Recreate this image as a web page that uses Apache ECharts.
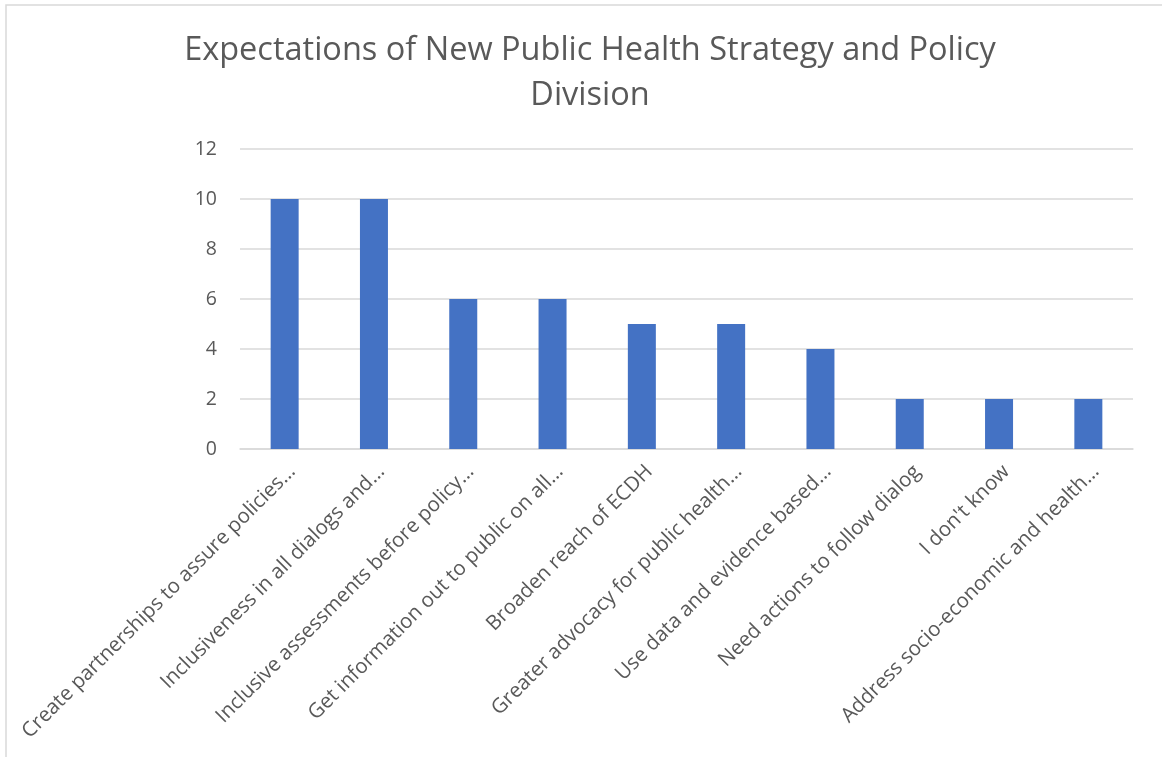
<!DOCTYPE html>
<html>
<head>
<meta charset="utf-8">
<script src="https://cdn.jsdelivr.net/npm/echarts@6/dist/echarts.min.js"></script>
<style>
  html, body { margin: 0; padding: 0; background: #fff; }
  #chart { width: 1162px; height: 757px; }
</style>
</head>
<body>
<div id="chart"></div>
<script>
// Survey responses: expectations of the new division
const categories = [
  'Create partnerships to assure policies…',
  'Inclusiveness in all dialogs and…',
  'Inclusive assessments before policy…',
  'Get information out to public on all…',
  'Broaden reach of ECDH',
  'Greater advocacy for public health…',
  'Use data and evidence based…',
  'Need actions to follow dialog',
  "I don't know",
  'Address socio-economic and health…'
];
const counts = [10, 10, 6, 6, 5, 5, 4, 2, 2, 2];
const yTicks = { min: 0, max: 12, interval: 2 };
const titleText = 'Expectations of New Public Health Strategy and Policy\nDivision';

const FONT = 'Open Sans';
const TEXT = '#595959';

const chart = echarts.init(document.getElementById('chart'), null, { renderer: 'canvas' });
chart.setOption({
  backgroundColor: '#ffffff',
  animation: false,
  title: {
    text: titleText,
    left: 585,
    top: 23,
    textAlign: 'center',
    textStyle: {
      fontFamily: FONT,
      fontSize: 32.5,
      fontWeight: 'normal',
      color: TEXT,
      lineHeight: 45
    }
  },
  graphic: [{
    type: 'rect',
    shape: { x: 6, y: 5, width: 1300, height: 900 },
    style: { fill: 'none', stroke: '#d9d9d9', lineWidth: 1.5 },
    silent: true,
    z: -10
  }],
  grid: { left: 240, right: 29, top: 149, bottom: 308, containLabel: false },
  xAxis: {
    type: 'category',
    data: categories,
    axisLine: { lineStyle: { color: '#d9d9d9', width: 1.5 } },
    axisTick: { show: false },
    axisLabel: {
      interval: 0,
      rotate: 45,
      margin: 12,
      verticalAlign: 'top',
      fontFamily: FONT,
      fontSize: 20.5,
      color: TEXT
    }
  },
  yAxis: {
    type: 'value',
    min: yTicks.min,
    max: yTicks.max,
    interval: yTicks.interval,
    axisLine: { show: false },
    axisTick: { show: false },
    splitLine: { lineStyle: { color: '#d9d9d9', width: 1.5 } },
    axisLabel: {
      margin: 23,
      fontFamily: FONT,
      fontSize: 19.5,
      color: TEXT
    }
  },
  series: [{
    type: 'bar',
    data: counts,
    barWidth: 28,
    itemStyle: { color: '#4472c4' }
  }]
});
</script>
</body>
</html>
